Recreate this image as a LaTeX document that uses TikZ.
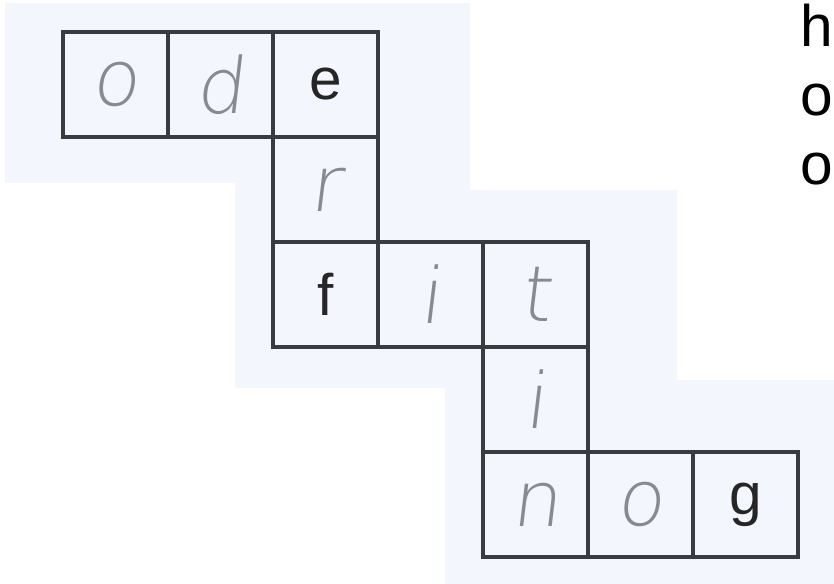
\documentclass[tikz,border=0pt]{standalone}
\usepackage{fontspec}
\setmainfont{Liberation Sans}
\IfFontExistsTF{DejaVu Sans ExtraLight}
  {\newfontfamily\mano[FakeSlant=0.12]{DejaVu Sans ExtraLight}}
  {\newfontfamily\mano[FakeSlant=0.12]{DejaVu Sans}}
\usepackage{xcolor}
\usetikzlibrary{positioning}
\definecolor{cfondo}{HTML}{F3F6FD}
\definecolor{clinea}{HTML}{383B40}
\definecolor{cmano}{HTML}{868A93}
\tikzset{
  celda/.style={rectangle, draw=clinea, line width=3.2pt, minimum size=3.15cm,
    inner sep=0pt, outer sep=0pt},
  celdam/.style={celda, text=cmano, font=\mano\fontsize{66}{66}\selectfont},
  celdai/.style={celda, text=black!85, font=\fontsize{50}{50}\selectfont},
  etq/.style={font=\fontsize{50}{60}\selectfont, text=black, inner sep=0pt, anchor=base west},
}
\begin{document}
\begin{tikzpicture}[x=0.03cm, y=-0.03cm, node distance=0pt]
  \useasboundingbox (0,0) rectangle (834,584);
  \clip (0,0) rectangle (834,584);
  % fondo escalonado
  \fill[cfondo] (5,3) -- (470,3) -- (470,190) -- (677,190) -- (677,380) -- (834,380)
    -- (834,584) -- (445,584) -- (445,388) -- (235,388) -- (235,183) -- (5,183) -- cycle;
  % casillas
  \node[celdam, anchor=north west] (o1) at (63,32) {o};
  \node[celdam, right=of o1] (d1) {d};
  \node[celdai, right=of d1] (e1) {e};
  \node[celdam, below=of e1] (r1) {r};
  \node[celdai, below=of r1] (f1) {f};
  \node[celdam, right=of f1] (i1) {i};
  \node[celdam, right=of i1] (t1) {t};
  \node[celdam, below=of t1] (i2) {i};
  \node[celdam, below=of i2] (n1) {n};
  \node[celdam, right=of n1] (o2) {o};
  \node[celdai, right=of o2] (g1) {g};
  % texto a la derecha
  \node[etq] (h1) at (800,46) {h};
  \node[etq] (l2) at (800,115) {o};
  \node[etq] (l3) at (800,184) {o};
\end{tikzpicture}
\end{document}
